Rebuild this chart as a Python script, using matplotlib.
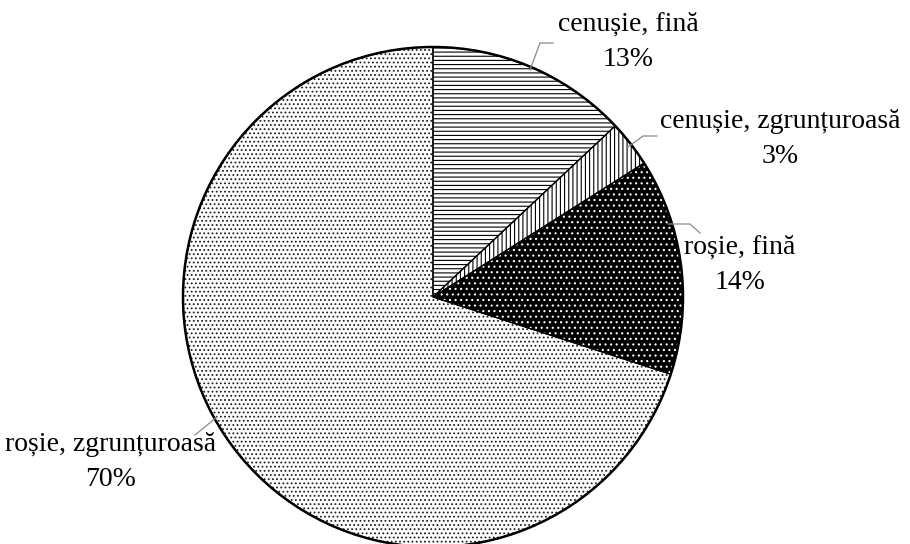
import numpy as np
import matplotlib.pyplot as plt

# soil types and their shares (%)
labels = ['cenușie, fină', 'cenușie, zgrunțuroasă', 'roșie, fină', 'roșie, zgrunțuroasă']
shares = [13, 3, 14, 70]

# fill style for each slice: face colour, hatch, hatch colour
faces = ['white', 'white', 'black', 'white']
hatches = ['----', '||||', '...', '....']
hatch_colors = ['black', 'black', 'white', '#202020']

H = 544  # figure height in px, used to flip y

def py(y):
    return H - y

plt.rcParams['hatch.linewidth'] = 0.8

fig = plt.figure(figsize=(9.10, 5.44), dpi=100)
ax = fig.add_axes([0, 0, 1, 1])

center = (433, py(297))
radius = 250

wedges, _ = ax.pie(shares, startangle=90, counterclock=False,
                   center=center, radius=radius)
for w, fc, ht, hc in zip(wedges, faces, hatches, hatch_colors):
    w.set_facecolor(fc)
    w.set_hatch(ht)
    w.set_edgecolor(hc)
    w.set_linewidth(0)

# slice borders
ax.pie(shares, startangle=90, counterclock=False, center=center, radius=radius,
       wedgeprops=dict(fill=False, edgecolor='black', linewidth=0.9))
ax.add_patch(plt.Circle(center, radius, fill=False, edgecolor='black', linewidth=1.8))

# leader lines (pixel coordinates)
leaders = [
    [(530, 70), (540, 43), (553, 43)],
    [(628, 147), (643, 136), (657, 136)],
    [(668, 224), (690, 224), (700, 233)],
    [(217, 417), (195, 435)],
]
for pts in leaders:
    xs = [p[0] for p in pts]
    ys = [py(p[1]) for p in pts]
    ax.plot(xs, ys, color='#8a8a8a', linewidth=0.9)

# label positions (centre of two-line block)
label_pos = [(628, 42), (780, 139), (740, 265), (111, 462)]
for lab, val, (x, y) in zip(labels, shares, label_pos):
    ax.text(x, py(y), f'{lab}\n{val}%', ha='center', va='center',
            fontsize=20, family='Liberation Serif', linespacing=1.55)

ax.set_xlim(0, 910)
ax.set_ylim(0, H)
ax.set_aspect('auto')
ax.axis('off')

fig.savefig('out.png', dpi=100)
